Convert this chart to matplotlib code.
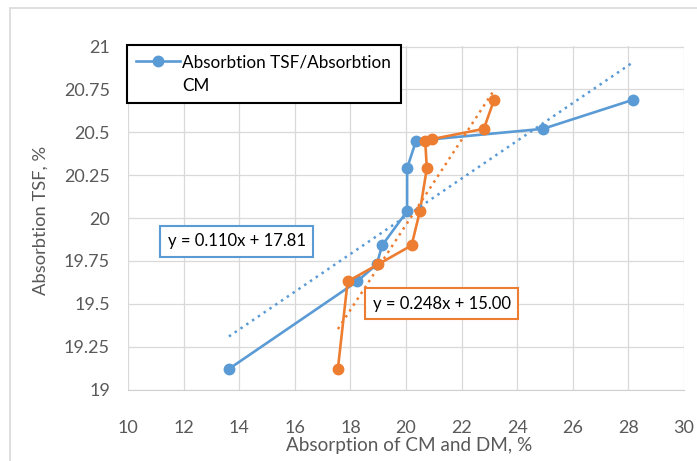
import matplotlib
matplotlib.use('Agg')
import matplotlib.pyplot as plt
from matplotlib.lines import Line2D
import numpy as np

# Data
tsf_x = [13.63, 18.24, 18.95, 19.14, 20.04, 20.04, 20.36, 24.93, 28.18]
tsf_y = [19.12, 19.63, 19.73, 19.84, 20.04, 20.29, 20.45, 20.52, 20.69]

cm_x = [17.55, 17.90, 19.00, 20.20, 20.50, 20.75, 20.69, 20.94, 22.80, 23.17]
cm_y = [19.12, 19.63, 19.73, 19.84, 20.04, 20.29, 20.45, 20.46, 20.52, 20.69]

# trendline coefficients shown on the chart
blue_fit = (0.110, 17.81)
orange_fit = (0.248, 15.00)

xticks = [10, 12, 14, 16, 18, 20, 22, 24, 26, 28, 30]
yticks = [19, 19.25, 19.5, 19.75, 20, 20.25, 20.5, 20.75, 21]
yticklabels = ['19', '19.25', '19.5', '19.75', '20', '20.25', '20.5', '20.75', '21']

blue = '#5B9BD5'
orange = '#ED7D31'
grey = '#595959'

plt.rcParams['font.family'] = ['Lato', 'DejaVu Sans']

fig = plt.figure(figsize=(6.97, 4.61), dpi=100)
ax = fig.add_axes([128/697, (461-389.5)/461, 556/697, 343/461])

# faint chart border
fig.add_artist(plt.Rectangle((10/697, -0.1), 1.2, (461-8)/461 + 0.1,
                             transform=fig.transFigure, fill=False,
                             edgecolor='#d9d9d9', lw=1.2))

l1, = ax.plot(tsf_x, tsf_y, color=blue, lw=1.9, marker='o', ms=7.5, zorder=3)
ax.plot(cm_x, cm_y, color=orange, lw=1.9, marker='o', ms=7.5, zorder=4)

# linear trendlines over the data range
xb = np.array([min(tsf_x), max(tsf_x)])
ax.plot(xb, blue_fit[0]*xb + blue_fit[1], color=blue, lw=1.8,
        linestyle=(0, (1, 1.8)), zorder=5)
xo = np.array([min(cm_x), max(cm_x)])
ax.plot(xo, orange_fit[0]*xo + orange_fit[1], color=orange, lw=1.8,
        linestyle=(0, (1, 1.8)), zorder=5)

ax.set_xlim(10, 30)
ax.set_ylim(19, 21)
ax.set_xticks(xticks)
ax.set_yticks(yticks)
ax.set_yticklabels(yticklabels)
ax.grid(True, color='#d9d9d9', lw=0.9)
ax.set_axisbelow(True)
for s in ['top', 'right', 'left']:
    ax.spines[s].set_visible(False)
ax.spines['bottom'].set_color('#d0d0d0')
ax.tick_params(axis='x', length=0, pad=22, labelsize=13, colors=grey)
ax.tick_params(axis='y', length=0, pad=13, labelsize=13, colors=grey)

ax.set_xlabel('Absorption of CM and DM, %', fontsize=13.6, color=grey,
              va='top')
ax.xaxis.set_label_coords(0.505, -0.138)
ax.set_ylabel('Absorbtion TSF, %', fontsize=13.2, color=grey)
ax.yaxis.set_label_coords(-0.142, 0.494)

# legend: one series, label wrapped onto a second row like the reference
blank = Line2D([], [], color='none')
leg = ax.legend([l1, blank], ['Absorbtion TSF/Absorbtion', 'CM'],
                loc='upper left', bbox_to_anchor=(-0.002, 1.0045),
                borderaxespad=0, fancybox=False, framealpha=1,
                edgecolor='black', fontsize=12.3, handlelength=2.55,
                borderpad=0.55, handletextpad=0.15, labelspacing=0.45)
leg.get_frame().set_linewidth(1.5)
leg.set_zorder(10)

ax.text(13.92, 19.863, 'y = 0.110x + 17.81', fontsize=12, color='black',
        ha='center', va='center', zorder=11,
        bbox=dict(boxstyle='square,pad=0.45', fc='white', ec=blue, lw=1.5))
ax.text(21.29, 19.501, 'y = 0.248x + 15.00', fontsize=12, color='black',
        ha='center', va='center', zorder=11,
        bbox=dict(boxstyle='square,pad=0.45', fc='white', ec=orange, lw=1.5))

fig.savefig('out.png', dpi=100)
